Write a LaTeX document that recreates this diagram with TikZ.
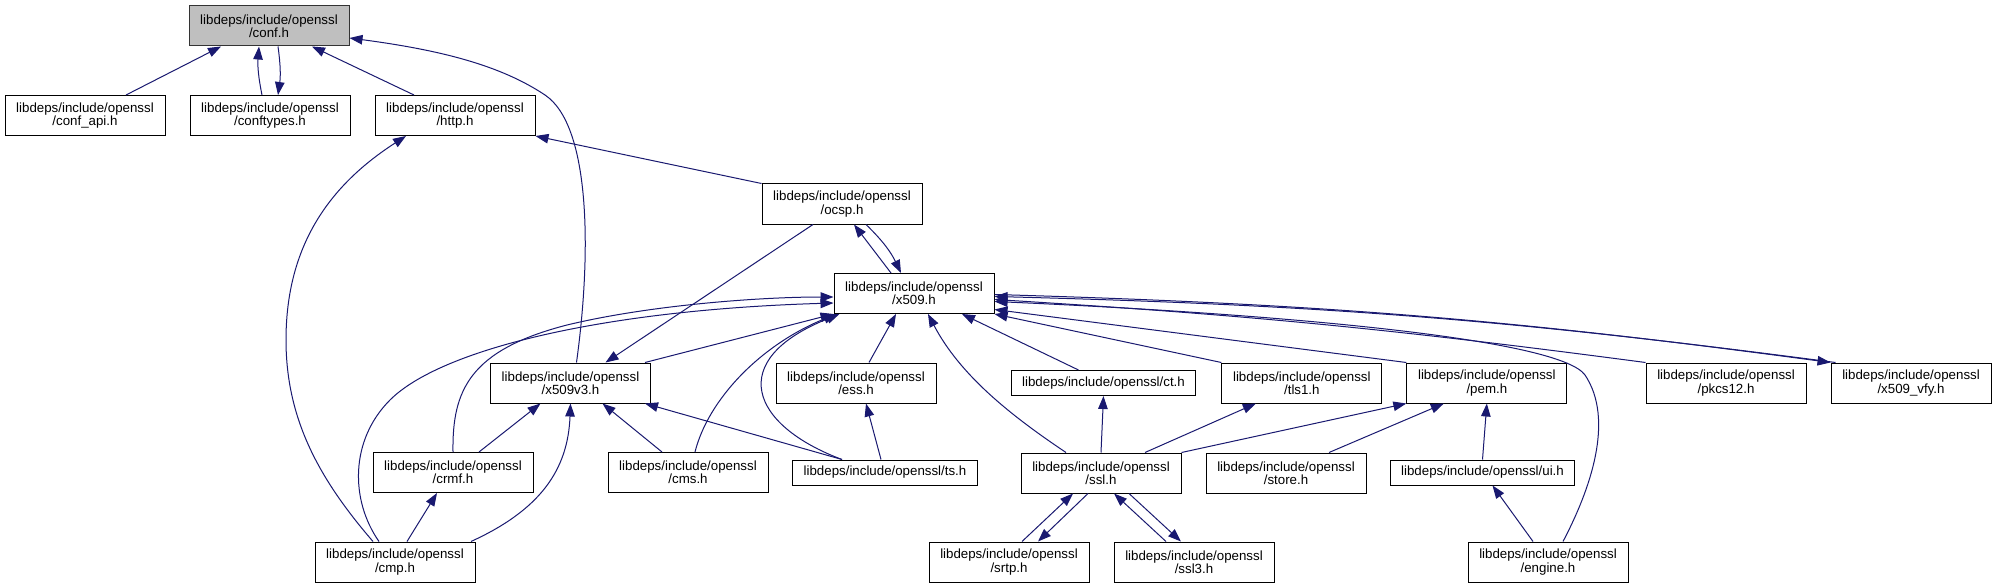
\documentclass[tikz,border=0pt]{standalone}
\usepackage{fontspec}
\setmainfont{Liberation Sans}
\usetikzlibrary{arrows.meta,positioning}
\definecolor{edgeblue}{RGB}{25,25,112}
\definecolor{rootgray}{RGB}{191,191,191}
\newcommand{\hdrfont}{\fontsize{13.3pt}{13.3pt}\selectfont}

\begin{document}
\begin{tikzpicture}[x=1pt,y=-1pt,
  hdr/.style={draw=black,fill=white,line width=1pt,minimum width=160pt,
              minimum height=40pt,inner xsep=11pt,inner ysep=2pt,
              align=center,font=\hdrfont},
  hdrone/.style={hdr,minimum height=25pt},
  root/.style={hdr,fill=rootgray,draw=black!80},
  arr/.style={-{Triangle[length=13pt,width=9.5pt]},edgeblue,line width=1pt},
  node distance=24pt
]
\fill[white] (0,0) rectangle (1996,588);

% rank 1
\node[root] (conf) at (269,26) {libdeps/include/openssl\\/conf.h};

% rank 2
\node[hdr] (confapi) at (85,115.5) {libdeps/include/openssl\\/conf\_api.h};
\node[hdr,right=of confapi] (conftypes) {libdeps/include/openssl\\/conftypes.h};
\node[hdr,right=of conftypes] (http) {libdeps/include/openssl\\/http.h};

% rank 3 and 4
\node[hdr] (ocsp) at (842,204) {libdeps/include/openssl\\/ocsp.h};
\node[hdr] (x509) at (914,293.5) {libdeps/include/openssl\\/x509.h};

% rank 5
\node[hdr] (x509v3) at (570.5,383) {libdeps/include/openssl\\/x509v3.h};
\node[hdr] (ess) at (856,383) {libdeps/include/openssl\\/ess.h};
\node[hdrone] (ct) at (1103.5,383) {libdeps/include/openssl/ct.h};
\node[hdr,right=25pt of ct] (tls1) {libdeps/include/openssl\\/tls1.h};
\node[hdr,right=of tls1] (pem) {libdeps/include/openssl\\/pem.h};
\node[hdr] (pkcs12) at (1726,383) {libdeps/include/openssl\\/pkcs12.h};
\node[hdr,right=of pkcs12] (x509vfy) {libdeps/include/openssl\\/x509\_vfy.h};

% rank 6
\node[hdr] (crmf) at (453,472.5) {libdeps/include/openssl\\/crmf.h};
\node[hdr] (cms) at (688,472.5) {libdeps/include/openssl\\/cms.h};
\node[hdrone] (ts) at (885,472.5) {libdeps/include/openssl/ts.h};
\node[hdr] (ssl) at (1101,473) {libdeps/include/openssl\\/ssl.h};
\node[hdr,right=of ssl] (store) {libdeps/include/openssl\\/store.h};
\node[hdrone] (ui) at (1482.5,472.5) {libdeps/include/openssl/ui.h};

% rank 7
\node[hdr] (cmp) at (395,562) {libdeps/include/openssl\\/cmp.h};
\node[hdr] (srtp) at (1009,562) {libdeps/include/openssl\\/srtp.h};
\node[hdr,right=of srtp] (ssl3) {libdeps/include/openssl\\/ssl3.h};
\node[hdr] (engine) at (1548,562) {libdeps/include/openssl\\/engine.h};

% into conf.h
\draw[arr] ([xshift=41pt]confapi.north) -- ([xshift=-48pt]conf.south);
\draw[arr] ([xshift=-8pt]conftypes.north) to[bend left=8] ([xshift=-10pt]conf.south);
\draw[arr] ([xshift=9pt]conf.south) to[bend left=8] ([xshift=8pt]conftypes.north);
\draw[arr] ([xshift=-41pt]http.north) -- ([xshift=43pt]conf.south);
\draw[arr] ([xshift=6pt]x509v3.north) .. controls (592,250) and (590,125) .. (545,95)
  .. controls (500,65) and (440,50) .. ([yshift=-12pt]conf.east);

% into http.h
\draw[arr] (ocsp.north west) -- (http.south east);
\draw[arr] ([xshift=-22pt]cmp.north) .. controls (320,480) and (286,420) .. (286,340)
  .. controls (286,245) and (330,185) .. ([xshift=-49pt]http.south);

% ocsp.h
\draw[arr] ([xshift=-23pt]x509.north) -- ([xshift=12pt]ocsp.south);
\draw[arr] ([xshift=24pt]ocsp.south) to[bend left=10] ([xshift=-13pt]x509.north);
\draw[arr] ([xshift=-29pt]ocsp.south) -- ([xshift=35pt]x509v3.north);

% into x509.h
\draw[arr] ([xshift=-6pt]x509v3.north east) -- (x509.south west);
\draw[arr] (crmf.north) .. controls (452,390) and (470,350) .. (567,325)
  .. controls (650,305) and (760,297) .. ([yshift=-3.5pt]x509.west);
\draw[arr] ([xshift=-16pt]cmp.north) .. controls (350,500) and (350,440) .. (390,400)
  .. controls (440,350) and (600,310) .. ([yshift=-9.5pt]x509.west);
\draw[arr] ([xshift=7pt]cms.north) .. controls (708,400) and (760,345) .. ([xshift=3pt]x509.south west);
\draw[arr] ([xshift=-43pt]ts.north) .. controls (750,425) and (725,360) .. ([xshift=6pt]x509.south west);
\draw[arr] ([xshift=13pt]ess.north) -- ([xshift=-18pt]x509.south);
\draw[arr] ([xshift=-35pt]ssl.north) .. controls (1010,415) and (960,375) .. ([xshift=14pt]x509.south);
\draw[arr] ([xshift=-25pt]ct.north) -- ([xshift=48pt]x509.south);
\draw[arr] (tls1.north west) -- (x509.south east);
\draw[arr] (pem.north west) -- ([yshift=-16pt]x509.east);
\draw[arr] (pkcs12.north west) to[bend right=2] ([yshift=-6pt]x509.east);
\draw[arr] ([xshift=5pt]x509vfy.north west) to[bend right=3] ([yshift=-3pt]x509.east);
\draw[arr] ([yshift=-1pt]x509.east) to[bend left=3] (x509vfy.north west);
\draw[arr] ([xshift=15pt]engine.north) .. controls (1590,490) and (1615,420) .. (1585,375)
  .. controls (1560,340) and (1300,315) .. ([yshift=-8pt]x509.east);

% into x509v3.h, ess.h, crmf.h
\draw[arr] ([xshift=26pt]crmf.north) -- ([xshift=-30pt]x509v3.south);
\draw[arr] ([xshift=76pt]cmp.north) .. controls (540,510) and (568,470) .. (x509v3.south);
\draw[arr] ([xshift=-26pt]cms.north) -- ([xshift=32pt]x509v3.south);
\draw[arr] ([xshift=-43pt]ts.north) -- ([xshift=-6pt]x509v3.south east);
\draw[arr] ([xshift=-4pt]ts.north) -- ([xshift=10pt]ess.south);
\draw[arr] ([xshift=12pt]cmp.north) -- ([xshift=-16pt]crmf.south);

% ct.h, tls1.h, pem.h, ui.h
\draw[arr] (ssl.north) -- (ct.south);
\draw[arr] ([xshift=44pt]ssl.north) -- ([xshift=-46pt]tls1.south);
\draw[arr] (ssl.north east) -- (pem.south west);
\draw[arr] ([xshift=43pt]store.north) -- ([xshift=-43pt]pem.south);
\draw[arr] (ui.north) -- (pem.south);
\draw[arr] ([xshift=-15pt]engine.north) -- ([xshift=10pt]ui.south);

% ssl.h cycles
\draw[arr] ([xshift=13pt]srtp.north) -- ([xshift=-28pt]ssl.south);
\draw[arr] ([xshift=-13pt]ssl.south) -- ([xshift=29pt]srtp.north);
\draw[arr] ([xshift=-28pt]ssl3.north) -- ([xshift=13pt]ssl.south);
\draw[arr] ([xshift=28pt]ssl.south) -- ([xshift=-13pt]ssl3.north);

\end{tikzpicture}
\end{document}
